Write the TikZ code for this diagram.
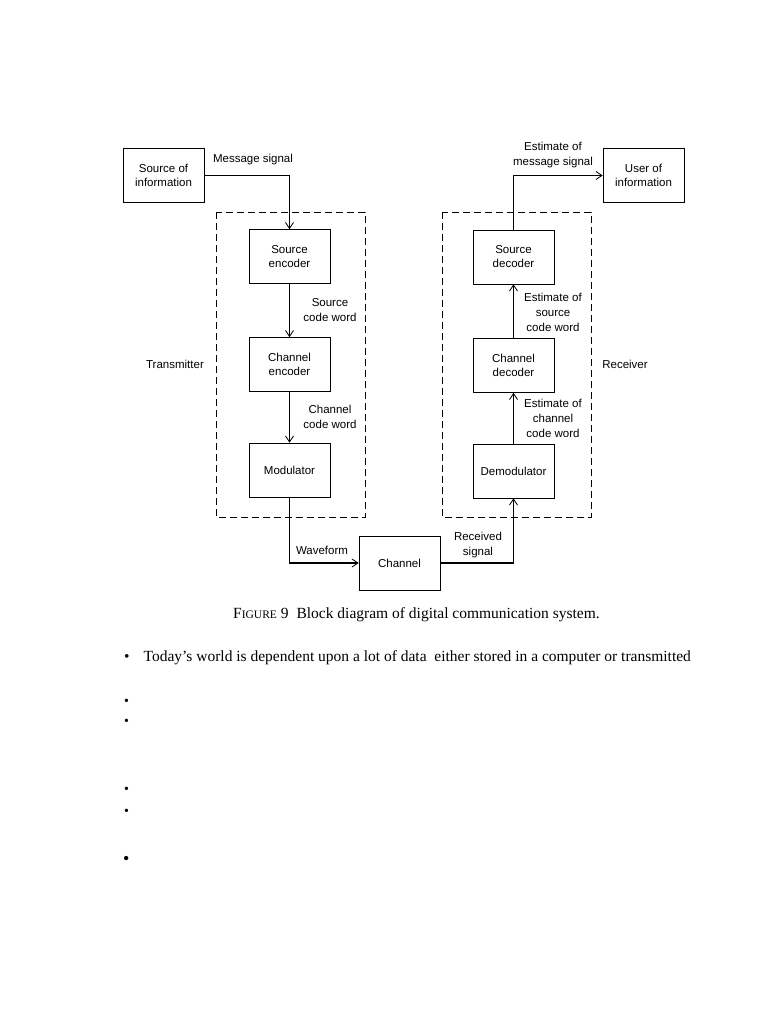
\documentclass[tikz,border=0pt]{standalone}
\usepackage{fontspec}
\setmainfont{Liberation Serif}
\setsansfont{Liberation Sans}
\usetikzlibrary{arrows.meta}
\begin{document}
\begin{tikzpicture}[x=1pt,y=-1pt,
  blk/.style={draw,line width=0.7pt,minimum width=81pt,minimum height=54pt,align=center,font=\sffamily\fontsize{11.5}{14}\selectfont,inner sep=0pt},
  lbl/.style={align=center,font=\sffamily\fontsize{11.5}{15}\selectfont,inner sep=0pt},
  grp/.style={draw,dashed,dash pattern=on 7pt off 4pt,line width=0.7pt},
  flow/.style={line width=1.3pt,-{Straight Barb[length=6pt,width=8pt,line width=0.8pt]}},
  flowthin/.style={line width=0.9pt,-{Straight Barb[length=6pt,width=8pt,line width=0.8pt]}}]
\useasboundingbox (0,0) rectangle (768,1024);
\fill[white] (0,0) rectangle (768,1024);
% groups
\draw[grp] (216,212) rectangle (365,517);
\draw[grp] (442,212) rectangle (591,517);
% nodes
\node[blk] (src) at (163.5,175.5) {Source of\\information};
\node[blk] (usr) at (643.5,175.5) {User of\\information};
\node[blk] (senc) at (289.5,256.5) {Source\\encoder};
\node[blk] (cenc) at (289.5,364.5) {Channel\\encoder};
\node[blk] (mod) at (289.5,470) {Modulator};
\node[blk] (sdec) at (513.5,257) {Source\\decoder};
\node[blk] (cdec) at (513.5,365.5) {Channel\\decoder};
\node[blk] (dem) at (513.5,471) {Demodulator};
\node[blk] (chan) at (399.5,563) {Channel};
% labels
\node[lbl] (lmsg) at (253,160) {Message signal};
\node[lbl] (lscw) at (330,310) {Source\\code word};
\node[lbl] (lccw) at (330,417) {Channel\\code word};
\node[lbl] (ltx) at (175,364) {Transmitter};
\node[lbl] (lrx) at (625,364) {Receiver};
\node[lbl] (lems) at (553,155) {Estimate of\\message signal};
\node[lbl] (lesc) at (553,312) {Estimate of\\source\\code word};
\node[lbl] (lecc) at (553,418) {Estimate of\\channel\\code word};
\node[lbl] (lwav) at (322,550) {Waveform};
\node[lbl] (lrec) at (478,545) {Received\\signal};
% connectors
\draw[flow] (src.east) -| (senc.north);
\draw[flow] (senc) -- (cenc);
\draw[flow] (cenc) -- (mod);
\draw[flow] (mod.south) |- (chan.west);
\draw[flow] (chan.east) -| (dem.south);
\draw[flow] (dem) -- (cdec);
\draw[flowthin] (cdec) -- (sdec);
\draw[flowthin] (sdec.north) |- (usr.west);
% caption
\node[anchor=base west,inner sep=0pt,font=\fontsize{15.5}{17}\selectfont] (cap) at (233,618) {F{\fontsize{11.5}{12}\selectfont IGURE} 9\hspace{8pt}Block diagram of digital communication system.};
% bullets
\node[anchor=base west,inner sep=0pt,font=\fontsize{15.5}{17}\selectfont] (b1) at (124,661) {\textbullet\hspace{14pt}Today’s world is dependent upon a lot of data\ \ either stored in a computer or transmitted};
\foreach \y/\n in {705/b2,725/b3,793/b4,815/b5}
  \node[anchor=base west,inner sep=0pt,font=\fontsize{14}{16}\selectfont] (\n) at (124,\y) {\textbullet};
\node[anchor=base west,inner sep=0pt,font=\fontsize{18}{18}\selectfont] (b6) at (123,864) {\textbullet};
\end{tikzpicture}
\end{document}
